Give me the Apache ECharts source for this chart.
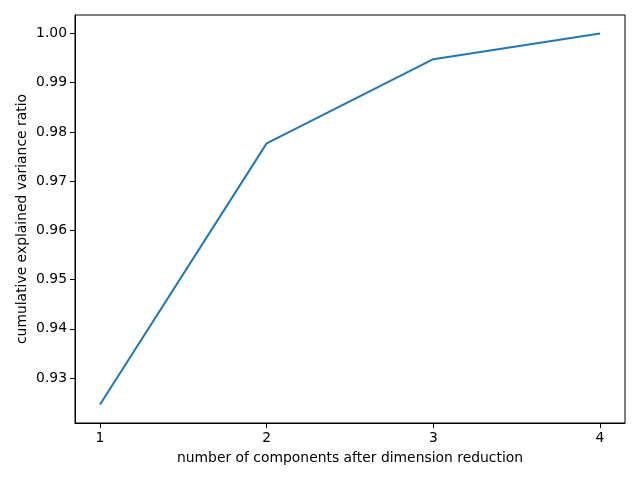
<!DOCTYPE html>
<html><head><meta charset="utf-8">
<script src="https://cdn.jsdelivr.net/npm/echarts@6/dist/echarts.min.js"></script>
<style>html,body{margin:0;padding:0;background:#fff}#c{width:640px;height:480px}</style>
</head><body><div id="c"></div>
<script>
const components = [1, 2, 3, 4];
const cumulativeRatio = [0.92461872, 0.97768521, 0.99478782, 1.0];
const xTicks = [1, 2, 3, 4];
const yTicks = [0.93, 0.94, 0.95, 0.96, 0.97, 0.98, 0.99, 1.00];

const yMinData = Math.min(...cumulativeRatio), yMaxData = Math.max(...cumulativeRatio);
const yPad = (yMaxData - yMinData) * 0.05;
const xPad = (components[components.length-1] - components[0]) * 0.05;

const font = 'DejaVu Sans';
const chart = echarts.init(document.getElementById('c'), null, {renderer: 'canvas'});
chart.setOption({
  animation: false,
  grid: {left: 75, right: 15, top: 15, bottom: 57, show: true, borderColor: '#000', borderWidth: 1, backgroundColor: 'transparent'},
  xAxis: {
    type: 'value', min: components[0] - xPad, max: components[components.length-1] + xPad,
    name: 'number of components after dimension reduction', nameLocation: 'middle', nameGap: 28,
    nameTextStyle: {fontFamily: font, fontSize: 13.9, color: '#000'},
    axisLine: {show: true, onZero: false, lineStyle: {color: '#000', width: 1}},
    axisTick: {show: true, length: 5, lineStyle: {color: '#000', width: 1}, customValues: xTicks},
    axisLabel: {customValues: xTicks, fontFamily: font, fontSize: 13.9, color: '#000', margin: 8, formatter: v => String(v)},
    splitLine: {show: false}
  },
  yAxis: {
    type: 'value', min: yMinData - yPad, max: yMaxData + yPad,
    name: 'cumulative explained variance ratio', nameLocation: 'middle', nameGap: 46, nameRotate: 90,
    nameMoveOverlap: false,
    nameTextStyle: {fontFamily: font, fontSize: 13.9, color: '#000'},
    axisLine: {show: true, onZero: false, lineStyle: {color: '#000', width: 1}},
    axisTick: {show: true, length: 5, lineStyle: {color: '#000', width: 1}, customValues: yTicks},
    axisLabel: {customValues: yTicks, fontFamily: font, fontSize: 13.9, color: '#000', margin: 8, formatter: v => v.toFixed(2)},
    splitLine: {show: false}
  },
  series: [{
    type: 'line', data: components.map((c, i) => [c, cumulativeRatio[i]]),
    showSymbol: false, symbol: 'none',
    lineStyle: {color: '#1f77b4', width: 2}, itemStyle: {color: '#1f77b4'}
  }]
});
</script></body></html>
